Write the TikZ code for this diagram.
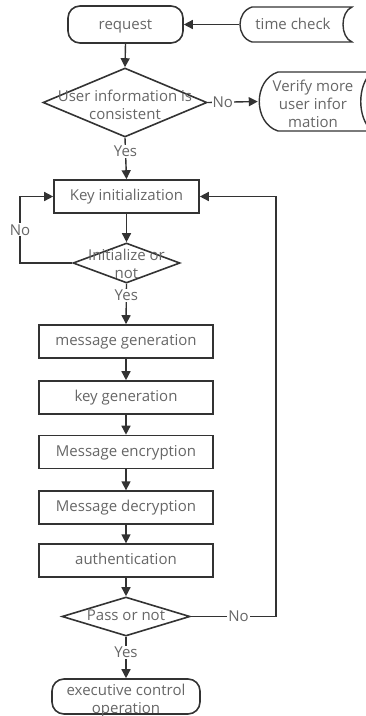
\documentclass[tikz,border=0pt]{standalone}
\usepackage{fontspec}
\setmainfont{Open Sans}
\usetikzlibrary{arrows.meta,shapes.geometric}
\definecolor{lc}{HTML}{333333}
\definecolor{tc}{HTML}{666666}
\begin{document}
\begin{tikzpicture}[x=1pt,y=-1pt,
  ln/.style={draw=lc,line width=1.4pt},
  arr/.style={ln,-{Triangle[length=9pt,width=9pt]}},
  txt/.style={text=tc,font=\fontsize{15}{18}\selectfont,align=center,inner sep=0pt},
  lbl/.style={txt,fill=white,inner sep=1pt},
  box/.style={ln,line width=1.6pt,rectangle,minimum height=33pt,inner sep=0pt,txt,text height=11.5pt,text depth=3pt},
  term/.style={box,rounded corners=12pt},
  dia/.style={ln,line width=1.6pt,diamond,inner sep=0pt},
  ghost/.style={rectangle,inner sep=0pt}]
\useasboundingbox (0,0) rectangle (366,716);
\clip (0,0) rectangle (366,716);

% top row
\node[term,minimum width=115pt,minimum height=37pt,text height=12.5pt,text depth=3pt] (req) at (125.5,24.5) {request};
\node[ghost,minimum width=113pt,minimum height=35pt] (tcb) at (295.5,24.5) {};
\draw[ln] (252,7) -- (352,7) .. controls (340,12) and (340,37) .. (352,42)
  -- (252,42) .. controls (236,37) and (236,12) .. (252,7);
\node[txt,text height=12pt,text depth=3pt] (tct) at (293,24.5) {time check};
\draw[arr] (tcb.west) -- (req.east);

% decision 1
\node[dia,minimum width=164pt,minimum height=69pt] (d1) at (125,102.5) {};
\node[txt] (d1t) at (125,105) {User information is\\consistent};
\draw[arr] (req.south) -- (d1.north);

\node[ghost,minimum width=114pt,minimum height=59pt] (vf) at (315,101.5) {};
\draw[ln] (278,72) -- (372,72) .. controls (357,85) and (357,118) .. (372,131)
  -- (278,131) .. controls (253,123) and (253,80) .. (278,72);
\node[txt] (vft) at (313,103.5) {Verify more\\user infor\\mation};
\draw[arr] (d1.east) -- node[lbl,pos=0.3] {No} (vf.west);

% key initialization
\node[box,minimum width=145pt] (ki) at (126.5,196.5) {Key initialization};
\draw[arr] (d1.south) -- node[lbl,pos=0.33] {Yes} (ki.north);

\node[dia,minimum width=107pt,minimum height=40pt] (d2) at (126.5,263) {};
\node[txt] (d2t) at (126.5,264) {Initialize or\\not};
\draw[arr] (ki.south) -- (d2.north);
\coordinate (nl) at (20,263);
\draw[arr] (d2.west) -- (nl) -- node[lbl] {No} (nl |- ki.west) -- (ki.west);

% process chain
\node[box,minimum width=174pt] (mg) at (126,341.5) {message generation};
\node[box,minimum width=174pt] (kg) at (126,397.5) {key generation};
\node[box,minimum width=174pt] (me) at (126,452) {Message encryption};
\node[box,minimum width=174pt,line width=1.3pt] (md) at (126,507.5) {Message decryption};
\node[box,minimum width=174pt,line width=1.3pt] (au) at (126,560.5) {authentication};
\draw[arr] (d2.south) -- node[lbl,pos=0.29] {Yes} (mg.north);
\draw[arr] (mg.south) -- (kg.north);
\draw[arr] (kg.south) -- (me.north);
\draw[arr] (me.south) -- (md.north);
\draw[arr] (md.south) -- (au.north);

% decision 3
\node[dia,minimum width=128pt,minimum height=39pt] (d3) at (126,616.5) {};
\node[txt,text height=11.5pt,text depth=3pt] (d3t) at (126,616.5) {Pass or not};
\draw[arr] (au.south) -- (d3.north);
\coordinate (nr) at (276,616.5);
\draw[arr] (d3.east) -- node[lbl,pos=0.56] {No} (nr) -- (nr |- ki.east) -- (ki.east);

\node[term,minimum width=148pt,minimum height=35pt] (ex) at (126,696.5) {};
\node[txt] (ext) at (126,701) {executive control\\operation};
\draw[arr] (d3.south) -- node[lbl,pos=0.37] {Yes} (ex.north);
\end{tikzpicture}
\end{document}
